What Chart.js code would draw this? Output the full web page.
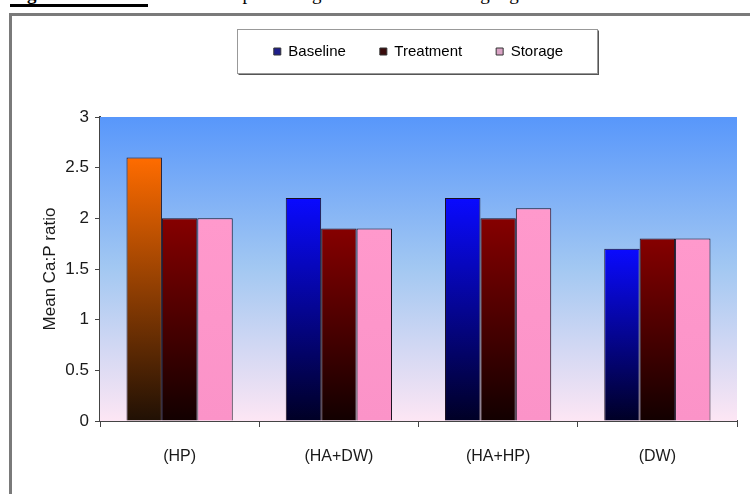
<!DOCTYPE html>
<html>
<head>
<meta charset="utf-8">
<script src="https://cdn.jsdelivr.net/npm/chart.js@4.4.0/dist/chart.umd.min.js"></script>
<style>
  html, body { margin: 0; padding: 0; background: #fff; }
  #wrap { position: relative; width: 750px; height: 494px; overflow: hidden; }
  #caption {
    position: absolute; left: 10px; top: -16px; white-space: nowrap;
    font-family: "Liberation Serif", serif; font-size: 19px; color: #000; line-height: 20px;
  }
  #caption b { display: inline-block; width: 138px; border-bottom: 3px solid #000; }
  #frame {
    position: absolute; left: 9px; top: 13px; width: 900px; height: 700px;
    border-top: 3px solid #7a7a7a; border-left: 3px solid #7a7a7a;
  }
  canvas { position: absolute; left: 0; top: 0; }
</style>
</head>
<body>
<div id="wrap">
  <div id="caption"><b>Figure 4.4:</b> Bar chart representing mean Ca:P ratio weight gro</div>
  <div id="frame"></div>
  <canvas id="chart" width="750" height="494"></canvas>
</div>
<script>
// data
const groups = ['(HP)', '(HA+DW)', '(HA+HP)', '(DW)'];
const seriesNames = ['Baseline', 'Treatment', 'Storage'];
const baseline = [2.6, 2.2, 2.2, 1.7];
const treatment = [2.0, 1.9, 2.0, 1.8];
const storage = [2.0, 1.9, 2.1, 1.8];
const yTicks = [0, 0.5, 1, 1.5, 2, 2.5, 3];

const FONT = '"Liberation Sans", Arial, sans-serif';

// gradient stops (top of bar -> bottom of bar)
const fills = [
  ['#0a0aff', '#000025'],
  ['#860000', '#120000'],
  ['#ff99cc', '#fb93c8']
];
const hpBaselineFill = ['#ff6c00', '#201004'];
const legendFills = ['#1e1e8a', '#3a0c0c', '#d9a3c4'];

function barFill(ctx) {
  let stops = fills[ctx.datasetIndex];
  if (ctx.datasetIndex === 0 && ctx.dataIndex === 0) stops = hpBaselineFill;
  const chart = ctx.chart;
  if (!chart.chartArea || ctx.type !== 'data') return stops[0];
  const y = chart.scales.y;
  const top = y.getPixelForValue(ctx.raw);
  const bot = y.getPixelForValue(0);
  if (!isFinite(top) || !isFinite(bot) || top === bot) return stops[0];
  const g = chart.ctx.createLinearGradient(0, top, 0, bot);
  g.addColorStop(0, stops[0]);
  g.addColorStop(1, stops[1]);
  return g;
}

// plot background + legend box
const decor = {
  id: 'decor',
  beforeDatasetsDraw(chart) {
    const { ctx, chartArea: a } = chart;
    const g = ctx.createLinearGradient(0, a.top, 0, a.bottom);
    g.addColorStop(0, '#5897fb');
    g.addColorStop(0.5, '#a3c8f2');
    g.addColorStop(1, '#fde6f4');
    ctx.save();
    ctx.fillStyle = g;
    ctx.fillRect(a.left, a.top, a.right - a.left, a.bottom - a.top);
    ctx.restore();
  },
  afterDraw(chart) {
    const hb = chart.legend.legendHitBoxes;
    if (!hb || !hb.length) return;
    const minX = Math.min(...hb.map(h => h.left));
    const maxX = Math.max(...hb.map(h => h.left + h.width));
    const cy = hb[0].top + hb[0].height / 2;
    const ctx = chart.ctx;
    const l = Math.round(minX - 37) + 0.5, r = Math.round(maxX + 34) + 0.5;
    const t = Math.round(cy - 23) + 0.5, b = Math.round(cy + 21) + 0.5;
    ctx.save();
    ctx.strokeStyle = '#555';
    ctx.lineWidth = 2;
    ctx.beginPath();
    ctx.moveTo(l + 1, b + 0.5); ctx.lineTo(r + 0.5, b + 0.5); ctx.lineTo(r + 0.5, t + 1);
    ctx.stroke();
    ctx.strokeStyle = '#999';
    ctx.lineWidth = 1;
    ctx.strokeRect(l, t, r - l, b - t);
    ctx.restore();
  }
};

const datasets = [baseline, treatment, storage].map((vals, i) => ({
  label: seriesNames[i],
  data: vals,
  backgroundColor: barFill,
  borderColor: '#1a1020',
  borderWidth: 1,
  borderSkipped: 'bottom',
  categoryPercentage: 0.667,
  barPercentage: 1
}));

new Chart(document.getElementById('chart'), {
  type: 'bar',
  data: { labels: groups, datasets },
  plugins: [decor],
  options: {
    responsive: false,
    animation: false,
    layout: { padding: { left: 40, right: 13, top: 10, bottom: 0 } },
    plugins: {
      tooltip: { enabled: false },
      // empty title used only as a spacer between legend and plot
      title: { display: true, text: '', weight: 500, font: { size: 10 }, padding: { top: 36, bottom: 0 } },
      legend: {
        position: 'top',
        fullSize: false,
        labels: {
          boxWidth: 7,
          boxHeight: 7,
          padding: 34,
          color: '#1a1a1a',
          font: { family: FONT, size: 15 },
          generateLabels: () => seriesNames.map((n, i) => ({
            text: n,
            fillStyle: legendFills[i],
            strokeStyle: '#333',
            lineWidth: 1,
            datasetIndex: i
          }))
        }
      }
    },
    scales: {
      x: {
        grid: { drawOnChartArea: false, drawTicks: true, tickLength: 6, color: '#444', lineWidth: 1 },
        border: { display: true, color: '#444', width: 2 },
        ticks: { color: '#1a1a1a', font: { family: FONT, size: 16 }, padding: 20 },
        afterFit(s) { s.height = 73; }
      },
      y: {
        min: 0,
        max: 3,
        afterBuildTicks(s) { s.ticks = yTicks.map(v => ({ value: v })); },
        grid: { drawOnChartArea: false, drawTicks: true, tickLength: 5, color: '#444', lineWidth: 1 },
        border: { display: true, color: '#444', width: 2 },
        ticks: { color: '#1a1a1a', font: { family: FONT, size: 17 }, padding: 6, callback: v => String(v) },
        title: { display: true, text: 'Mean Ca:P ratio', color: '#1a1a1a', font: { family: FONT, size: 17 }, padding: 0 },
        afterFit(s) { s.width = 60; }
      }
    }
  }
});
</script>
</body>
</html>
